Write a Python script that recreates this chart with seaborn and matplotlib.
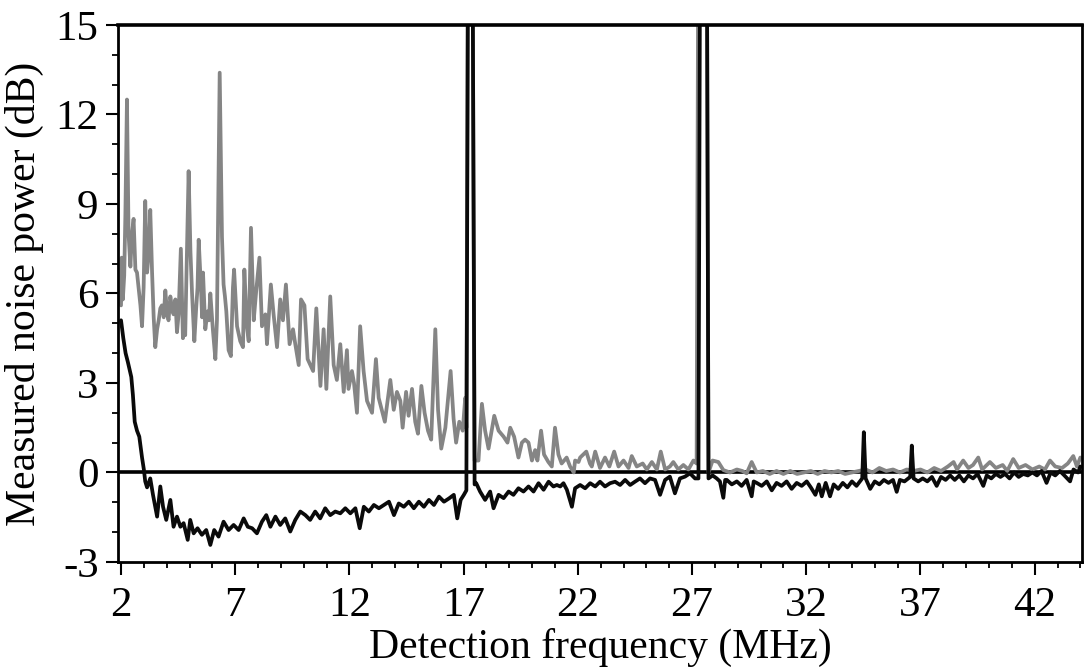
import numpy as np
import pandas as pd
import matplotlib
matplotlib.use("Agg")
import matplotlib.pyplot as plt
from matplotlib.ticker import MultipleLocator
import seaborn as sns

# ---- data ----
# grey trace (upper, noisy)
grey_freq = [
    2.00, 2.03, 2.08, 2.14, 2.19, 2.26, 2.33, 2.41, 2.48, 2.55, 2.63, 2.70, 2.77, 2.85, 2.92, 2.99,
    3.06, 3.14, 3.22, 3.28, 3.36, 3.43, 3.50, 3.58, 3.65, 3.72, 3.79, 3.87, 3.94, 4.01, 4.08, 4.16,
    4.23, 4.30, 4.38, 4.45, 4.52, 4.62, 4.71, 4.76, 4.81, 4.96, 5.04, 5.11, 5.21, 5.29, 5.35, 5.40,
    5.50, 5.55, 5.59, 5.69, 5.79, 5.85, 5.91, 6.02, 6.13, 6.20, 6.32, 6.42, 6.49, 6.55, 6.61, 6.71,
    6.81, 6.90, 6.95, 7.08, 7.22, 7.34, 7.40, 7.51, 7.59, 7.69, 7.81, 7.92, 8.06, 8.17, 8.32, 8.39,
    8.56, 8.68, 8.83, 8.97, 9.09, 9.22, 9.38, 9.53, 9.63, 9.78, 9.88, 10.03, 10.17, 10.41, 10.55, 10.73,
    10.87, 10.99, 11.16, 11.31, 11.45, 11.60, 11.75, 11.89, 11.96, 12.11, 12.20, 12.33, 12.47, 12.62, 12.77, 12.99,
    13.16, 13.28, 13.55, 13.79, 13.94, 14.08, 14.23, 14.33, 14.48, 14.59, 14.74, 14.88, 15.00, 15.15, 15.29, 15.44,
    15.58, 15.76, 15.88, 16.02, 16.20, 16.43, 16.56, 16.67, 16.81, 16.96, 17.07, 17.12, 17.20, 17.38, 17.48, 17.65,
    17.80, 17.94, 18.09, 18.34, 18.53, 18.75, 18.92, 19.04, 19.21, 19.40, 19.55, 19.69, 19.84, 19.99, 20.13, 20.23,
    20.39, 20.52, 20.71, 20.86, 21.00, 21.15, 21.29, 21.51, 21.66, 21.82, 21.88, 22.03, 22.10, 22.37, 22.53, 22.61,
    22.76, 22.97, 23.19, 23.38, 23.59, 23.78, 24.00, 24.22, 24.36, 24.58, 24.84, 25.02, 25.24, 25.46, 25.63, 25.82,
    26.03, 26.18, 26.40, 26.62, 26.84, 27.06, 27.20, 27.28, 27.36, 27.64, 27.72, 27.90, 28.15, 28.37, 28.66, 28.96,
    29.20, 29.39, 29.61, 29.83, 30.10, 30.40, 30.70, 31.00, 31.30, 31.60, 31.90, 32.20, 32.50, 32.80, 33.10, 33.40,
    33.70, 34.00, 34.30, 34.60, 34.90, 35.20, 35.50, 35.80, 36.10, 36.40, 36.70, 37.00, 37.30, 37.60, 37.90, 38.20,
    38.45, 38.60, 38.87, 39.10, 39.30, 39.53, 39.70, 40.04, 40.30, 40.60, 40.80, 41.06, 41.30, 41.60, 41.90, 42.20,
    42.45, 42.67, 42.90, 43.20, 43.45, 43.69, 43.85, 44.00,
]
grey_power = [
    5.6, 7.2, 5.8, 6.6, 8.6, 12.5, 8.0, 6.9, 8.0, 8.5, 6.8, 6.7, 6.2, 5.6, 4.9, 6.2,
    9.1, 6.7, 7.4, 8.8, 6.7, 5.2, 4.2, 4.8, 5.1, 5.5, 5.6, 5.2, 6.1, 5.4, 5.1, 5.9,
    5.5, 5.3, 5.8, 4.7, 5.3, 7.5, 4.5, 5.0, 4.6, 10.1, 7.4, 6.0, 4.4, 5.5, 6.2, 7.8,
    6.2, 5.2, 6.7, 4.8, 5.4, 5.1, 6.0, 4.8, 3.8, 5.1, 13.4, 7.9, 6.3, 5.9, 5.4, 4.1,
    3.9, 6.2, 6.8, 4.9, 4.4, 4.2, 6.8, 4.9, 4.4, 8.2, 5.1, 6.1, 7.2, 4.9, 5.3, 4.3,
    6.3, 5.3, 4.2, 5.8, 5.1, 6.3, 4.3, 4.8, 4.3, 3.6, 5.8, 5.6, 3.8, 3.4, 5.5, 2.9,
    4.8, 2.8, 5.9, 3.6, 3.1, 4.3, 2.7, 4.1, 2.8, 3.4, 3.0, 2.0, 4.9, 3.4, 2.4, 2.0,
    3.8, 2.5, 1.7, 3.1, 2.1, 2.7, 2.4, 1.5, 2.7, 1.9, 2.8, 1.7, 1.3, 2.9, 2.0, 1.4,
    1.1, 4.8, 2.1, 0.8, 1.5, 3.4, 1.8, 1.0, 1.7, 1.4, 2.5, 1.5, 20.0, 20.0, 0.4, 0.4,
    2.3, 1.4, 0.8, 1.9, 1.4, 1.2, 1.0, 1.5, 1.2, 0.5, 1.0, 1.1, 1.0, 0.4, 0.75, 0.4,
    1.4, 0.6, 0.35, 0.2, 1.5, 0.6, 0.3, 0.5, 0.2, 0.0, 0.4, 0.35, 0.5, 0.7, 0.3, 0.2,
    0.7, 0.15, 0.5, 0.2, 0.7, 0.2, 0.4, 0.15, 0.55, 0.2, 0.3, 0.1, 0.35, 0.1, 0.7, 0.1,
    0.2, 0.35, 0.1, 0.25, 0.1, 0.4, 0.3, 20.0, 20.0, 20.0, 0.0, 0.4, 0.35, 0.08, 0.0, 0.1,
    0.05, -0.03, 0.35, 0.0, 0.05, -0.05, 0.05, -0.05, 0.05, -0.05, 0.0, 0.05, -0.05, 0.05, 0.0, 0.05,
    -0.05, 0.0, 0.05, 0.1, 0.0, 0.15, 0.05, 0.1, 0.0, 0.1, 0.05, 0.1, 0.0, 0.15, 0.05, 0.2,
    0.35, 0.1, 0.4, 0.15, 0.25, 0.5, 0.1, 0.35, 0.15, 0.25, 0.05, 0.45, 0.15, 0.25, 0.1, 0.2,
    0.1, 0.4, 0.2, 0.15, 0.3, 0.55, 0.2, 0.5,
]

# black trace (lower)
black_freq = [
    2.00, 2.05, 2.10, 2.20, 2.30, 2.45, 2.52, 2.60, 2.70, 2.80, 2.92, 3.00, 3.06, 3.14, 3.28, 3.40,
    3.58, 3.72, 3.84, 3.98, 4.16, 4.30, 4.45, 4.60, 4.74, 4.92, 5.03, 5.18, 5.35, 5.54, 5.73, 5.91,
    6.08, 6.27, 6.49, 6.71, 6.93, 7.15, 7.37, 7.55, 7.74, 7.95, 8.17, 8.36, 8.54, 8.76, 8.97, 9.19,
    9.41, 9.63, 9.85, 10.07, 10.28, 10.50, 10.72, 10.94, 11.16, 11.38, 11.60, 11.82, 12.04, 12.26, 12.45, 12.63,
    12.85, 13.07, 13.29, 13.51, 13.73, 13.95, 14.16, 14.38, 14.60, 14.82, 15.04, 15.26, 15.48, 15.70, 15.92, 16.14,
    16.36, 16.57, 16.72, 16.87, 17.01, 17.12, 17.20, 17.38, 17.48, 17.55, 17.72, 17.94, 18.16, 18.31, 18.53, 18.75,
    18.97, 19.18, 19.40, 19.62, 19.84, 20.06, 20.28, 20.50, 20.72, 20.93, 21.08, 21.23, 21.37, 21.52, 21.74, 21.88,
    22.10, 22.32, 22.54, 22.76, 22.97, 23.19, 23.41, 23.63, 23.85, 24.07, 24.29, 24.50, 24.72, 24.94, 25.16, 25.38,
    25.60, 25.82, 26.03, 26.25, 26.47, 26.69, 26.91, 27.13, 27.28, 27.36, 27.64, 27.72, 27.90, 28.08, 28.22, 28.37,
    28.45, 28.52, 28.74, 28.96, 29.17, 29.39, 29.61, 29.70, 29.83, 30.05, 30.27, 30.49, 30.70, 30.92, 31.14, 31.36,
    31.58, 31.80, 32.02, 32.20, 32.40, 32.55, 32.68, 32.85, 33.04, 33.20, 33.40, 33.60, 33.80, 34.00, 34.20, 34.45,
    34.52, 34.60, 34.80, 35.00, 35.20, 35.40, 35.60, 35.80, 35.96, 36.10, 36.30, 36.55, 36.62, 36.70, 36.90, 37.10,
    37.30, 37.50, 37.71, 37.90, 38.10, 38.30, 38.50, 38.70, 38.90, 39.10, 39.30, 39.50, 39.75, 39.90, 40.10, 40.30,
    40.50, 40.70, 40.90, 41.10, 41.30, 41.50, 41.70, 41.90, 42.10, 42.30, 42.52, 42.70, 42.90, 43.10, 43.30, 43.55,
    43.70, 43.90, 44.00,
]
black_power = [
    5.1, 4.8, 4.5, 4.0, 3.7, 3.2, 2.6, 1.7, 1.4, 1.2, 0.5, 0.1, -0.3, -0.5, -0.2, -0.75,
    -1.48, -0.47, -1.15, -1.59, -0.92, -1.82, -1.48, -1.82, -1.7, -2.26, -1.59, -2.04, -1.87, -2.09, -1.93, -2.43,
    -1.93, -2.15, -1.65, -1.93, -1.76, -1.93, -1.54, -1.82, -1.87, -2.04, -1.65, -1.43, -1.82, -1.48, -1.76, -1.54,
    -1.98, -1.59, -1.31, -1.43, -1.59, -1.31, -1.54, -1.2, -1.43, -1.31, -1.37, -1.2, -1.37, -1.2, -1.87, -1.15,
    -1.31, -1.09, -1.2, -1.09, -0.98, -1.43, -1.04, -1.15, -0.98, -1.2, -0.98, -1.15, -0.92, -1.09, -0.81, -0.98,
    -0.87, -0.75, -1.54, -0.92, -0.75, -0.6, 20.0, 20.0, -0.4, -0.36, -0.64, -0.92, -0.64, -1.2, -0.75, -0.86,
    -0.64, -0.75, -0.53, -0.64, -0.47, -0.64, -0.36, -0.58, -0.31, -0.47, -0.42, -0.47, -0.36, -0.58, -1.15, -0.53,
    -0.42, -0.53, -0.36, -0.47, -0.31, -0.47, -0.36, -0.31, -0.42, -0.25, -0.42, -0.31, -0.2, -0.36, -0.2, -0.25,
    -0.75, -0.25, -0.14, -0.7, -0.2, -0.14, -0.03, -0.2, -0.2, 20.0, 20.0, -0.2, -0.1, -0.2, -0.3, -0.85,
    -0.25, -0.25, -0.4, -0.3, -0.45, -0.25, -0.8, -0.3, -0.35, -0.45, -0.3, -0.6, -0.35, -0.45, -0.3, -0.55,
    -0.35, -0.45, -0.3, -0.5, -0.75, -0.4, -0.8, -0.35, -0.8, -0.4, -0.55, -0.35, -0.5, -0.3, -0.45, -0.2,
    1.35, -0.2, -0.55, -0.3, -0.4, -0.25, -0.35, -0.25, -0.65, -0.25, -0.3, -0.15, 0.9, -0.2, -0.3, -0.2,
    -0.3, -0.15, -0.45, -0.15, -0.25, -0.1, -0.25, -0.1, -0.3, -0.1, -0.2, -0.05, -0.45, -0.1, -0.2, -0.05,
    -0.15, -0.05, -0.2, 0.0, -0.15, -0.05, -0.1, 0.0, -0.1, 0.05, -0.35, 0.0, -0.1, 0.05, -0.1, -0.3,
    0.1, 0.0, 0.2,
]

x_ticks = [2, 7, 12, 17, 22, 27, 32, 37, 42]
y_ticks = [-3, 0, 3, 6, 9, 12, 15]
x_label = "Detection frequency (MHz)"
y_label = "Measured noise power (dB)"

# ---- build table ----
df = pd.concat([
    pd.DataFrame({"freq": grey_freq, "power": grey_power, "trace": "grey"}),
    pd.DataFrame({"freq": black_freq, "power": black_power, "trace": "black"}),
], ignore_index=True)

sns.set_theme(style="ticks")
plt.rcParams["font.family"] = ["Liberation Serif", "DejaVu Serif"]
plt.rcParams["axes.unicode_minus"] = False

fig = plt.figure(figsize=(10.84, 6.69), dpi=100)
ax = fig.add_axes([0.1089, 0.16, 0.889, 0.8027])

ax.axhline(0, color="black", lw=2.6, zorder=1)
sns.lineplot(data=df, x="freq", y="power", hue="trace",
             hue_order=["grey", "black"],
             palette={"grey": "#858585", "black": "#0a0a0a"},
             sort=False, estimator=None, legend=False,
             linewidth=2.7, ax=ax, zorder=2)

ax.set_xlim(1.87, 44.06)
ax.set_ylim(-3, 15)
ax.set_xticks(x_ticks)
ax.set_yticks(y_ticks)
ax.xaxis.set_minor_locator(MultipleLocator(1))
ax.yaxis.set_minor_locator(MultipleLocator(1))
ax.tick_params(which="major", direction="out", length=9, width=1.5,
               labelsize=31, colors="black", pad=5)
ax.tick_params(axis="x", which="major", pad=9)
ax.tick_params(which="minor", direction="out", length=4.5, width=1.3, colors="black")
for s in ax.spines.values():
    s.set_color("black")
    s.set_linewidth(2.0)
ax.spines["top"].set_linewidth(2.6)

ax.set_xlabel(x_label, fontsize=30, color="black", labelpad=2)
ax.set_ylabel(y_label, fontsize=30, color="black", labelpad=8)
ax.grid(False)

fig.savefig("out.png", dpi=100)
